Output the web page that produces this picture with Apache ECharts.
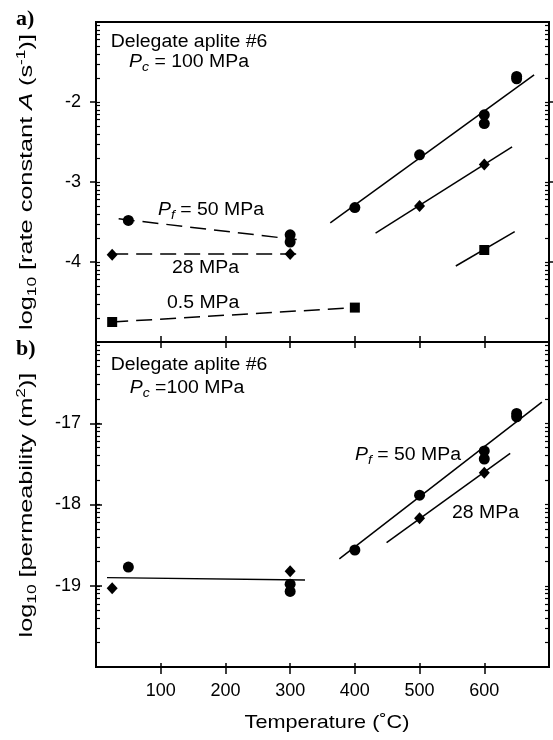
<!DOCTYPE html>
<html>
<head>
<meta charset="utf-8">
<script src="https://cdn.jsdelivr.net/npm/echarts@6/dist/echarts.min.js"></script>
<style>
html,body{margin:0;padding:0;background:#fff;}
#chart{width:553px;height:740px;}
</style>
</head>
<body>
<div id="chart"></div>
<script>
// ---------- data ----------
var xTickLabels = [100, 200, 300, 400, 500, 600];
var yMajorTop = [-4, -3, -2];
var yMajorBottom = [-19, -18, -17];

// (a) rate constant
var aCircles50 = [[50,-3.48],[300,-3.66],[300,-3.75],[400,-3.32],[500,-2.66],[600,-2.16],[600,-2.27],[650,-1.68],[650,-1.71]];
var aDiamonds28 = [[25,-3.91],[300,-3.90],[500,-3.30],[600,-2.78]];
var aSquares05 = [[25,-4.75],[400,-4.57],[600,-3.85]];
var aFit50 = [[362,-3.51],[677,-1.66]];
var aFit28 = [[432,-3.64],[643,-2.56]];
var aFit05 = [[556,-4.05],[647,-3.62]];
var aDash50 = [[35,-3.46],[310,-3.72]];
var aDash28 = [[25,-3.90],[320,-3.90]];
var aDash05 = [[25,-4.75],[400,-4.57]];

// (b) permeability
var bCircles50 = [[50,-18.77],[300,-18.98],[300,-19.07],[400,-18.56],[500,-17.885],[600,-17.34],[600,-17.44],[650,-16.88],[650,-16.92]];
var bDiamonds28 = [[25,-19.03],[300,-18.82],[500,-18.17],[600,-17.61]];
var bFlat = [[17,-18.90],[323,-18.93]];
var bFit50 = [[376,-18.67],[689,-16.74]];
var bFit28 = [[449,-18.47],[640,-17.37]];

// ---------- helpers ----------
function logTicks(min, max) {
  var t = [];
  for (var d = min; d < max; d++) {
    for (var k = 1; k <= 9; k++) {
      var v = d + Math.log10(k);
      if (v > min && v < max) t.push(v);
    }
  }
  return t;
}
var BLACK = '#000';
var FONT = 'Liberation Sans, Arial, Helvetica, sans-serif';

function yAxes(grid, min, max, majors) {
  var all = logTicks(min, max);
  var base = {type:'value', gridIndex:grid, min:min, max:max, interval:1, splitLine:{show:false}};
  return [
    Object.assign({}, base, {position:'left', axisLine:{show:true, lineStyle:{color:BLACK, width:2}},
      axisTick:{show:true, inside:false, length:6, customValues:majors, lineStyle:{color:BLACK, width:1.5}},
      axisLabel:{show:true, customValues:majors, margin:15, color:BLACK, fontSize:18, fontFamily:FONT}}),
    Object.assign({}, base, {position:'left', axisLine:{show:false},
      axisTick:{show:true, inside:true, length:4, customValues:all, lineStyle:{color:BLACK, width:1.2}},
      axisLabel:{show:false}}),
    Object.assign({}, base, {position:'right', axisLine:{show:true, lineStyle:{color:BLACK, width:2}},
      axisTick:{show:true, inside:false, length:6, customValues:majors, lineStyle:{color:BLACK, width:1.5}},
      axisLabel:{show:false}}),
    Object.assign({}, base, {position:'right', axisLine:{show:false},
      axisTick:{show:true, inside:true, length:4, customValues:all, lineStyle:{color:BLACK, width:1.2}},
      axisLabel:{show:false}})
  ];
}
function xAxis(grid, position, inside, len, showLabel) {
  return {type:'value', gridIndex:grid, position:position, min:0, max:700, interval:100,
    splitLine:{show:false},
    axisLine:{show:true, onZero:false, lineStyle:{color:BLACK, width:2}},
    axisTick:{show:true, inside:inside, length:len, customValues:xTickLabels, lineStyle:{color:BLACK, width:1.5}},
    axisLabel:{show:showLabel, customValues:xTickLabels, margin:15, color:BLACK, fontSize:18, fontFamily:FONT}};
}

var xAxes = [
  xAxis(0, 'bottom', true, 6, false),   // 0
  xAxis(1, 'top', true, 6, false),      // 1
  xAxis(1, 'bottom', true, 4, true),    // 2
  xAxis(1, 'bottom', false, 7, false)   // 3
];
var yAxesAll = yAxes(0, -5, -1, yMajorTop).concat(yAxes(1, -20, -16, yMajorBottom));

function line(data, xi, yi, dashed) {
  return {type:'line', data:data, xAxisIndex:xi, yAxisIndex:yi, symbol:'none', silent:true,
    lineStyle:{color:BLACK, width:1.5, type: dashed ? [16, 8] : 'solid'}, z:2};
}
function marks(data, xi, yi, symbol, size) {
  return {type:'scatter', data:data, xAxisIndex:xi, yAxisIndex:yi, symbol:symbol, symbolSize:size,
    itemStyle:{color:BLACK, opacity:1}, z:3};
}

function mkRich(fs) {
  var s = Math.round(fs * 0.7);
  return {
    n:{fontSize:fs, fontFamily:FONT, color:BLACK, lineHeight:fs + 5},
    i:{fontSize:fs, fontFamily:FONT, fontStyle:'italic', color:BLACK, lineHeight:fs + 5},
    isub:{fontSize:s, fontFamily:FONT, fontStyle:'italic', color:BLACK, lineHeight:s, verticalAlign:'bottom'},
    sub:{fontSize:s, fontFamily:FONT, color:BLACK, lineHeight:s, verticalAlign:'bottom'},
    sup:{fontSize:s, fontFamily:FONT, color:BLACK, lineHeight:s, verticalAlign:'top'}
  };
}
function txt(x, y, text, align, opts) {
  opts = opts || {};
  var fs = opts.fs || 18;
  return {type:'text', x:x, y:y, rotation: opts.rot || 0, scaleX: opts.sx || 1.08, silent:true,
    style:{text:text, rich:mkRich(fs), align:align || 'left', verticalAlign:'middle', fill:BLACK, font:fs + 'px ' + FONT}};
}

var option = {
  animation:false,
  backgroundColor:'#fff',
  grid:[
    {left:96, width:453, top:22, height:320, show:true, borderColor:BLACK, borderWidth:2},
    {left:96, width:453, top:342, height:325, show:true, borderColor:BLACK, borderWidth:2}
  ],
  xAxis:xAxes,
  yAxis:yAxesAll,
  series:[
    line(aFit50,0,0,false), line(aFit28,0,0,false), line(aFit05,0,0,false),
    line(aDash50,0,0,true), line(aDash28,0,0,true), line(aDash05,0,0,true),
    marks(aCircles50,0,0,'circle',11), marks(aDiamonds28,0,0,'diamond',[11,12]), marks(aSquares05,0,0,'rect',10),
    line(bFlat,2,4,false), line(bFit50,2,4,false), line(bFit28,2,4,false),
    marks(bCircles50,2,4,'circle',11), marks(bDiamonds28,2,4,'diamond',[11,12])
  ],
  graphic:[
    {type:'text', x:16, y:19, silent:true, style:{text:'a)', font:'bold 22px Liberation Serif, Times New Roman, serif', fill:BLACK, verticalAlign:'middle'}},
    {type:'text', x:16, y:349, silent:true, style:{text:'b)', font:'bold 22px Liberation Serif, Times New Roman, serif', fill:BLACK, verticalAlign:'middle'}},
    txt(189, 42, '{n|Delegate aplite #6}', 'center'),
    txt(189, 62, '{i|P}{isub|c}{n| = 100 MPa}', 'center'),
    txt(158, 210, '{i|P}{isub|f}{n| = 50 MPa}', 'left'),
    txt(172, 268, '{n|28 MPa}', 'left'),
    txt(167, 303, '{n|0.5 MPa}', 'left'),
    txt(189, 365, '{n|Delegate aplite #6}', 'center'),
    txt(187, 388, '{i|P}{isub|c}{n| =100 MPa}', 'center'),
    txt(355, 455, '{i|P}{isub|f}{n| = 50 MPa}', 'left'),
    txt(452, 513, '{n|28 MPa}', 'left'),
    txt(27, 182, '{n|log}{sub|10}{n| [rate constant }{i|A}{n| (s}{sup|-1}{n|)]}', 'center', {rot:Math.PI/2, fs:19, sx:1.33}),
    txt(27, 505, '{n|log}{sub|10}{n| [permeability (m}{sup|2}{n|)]}', 'center', {rot:Math.PI/2, fs:19, sx:1.33}),
    txt(327, 723, '{n|Temperature (˚C)}', 'center', {fs:19, sx:1.14})
  ]
};
var chart = echarts.init(document.getElementById('chart'), null, {renderer:'canvas'});
chart.setOption(option);
</script>
</body>
</html>
